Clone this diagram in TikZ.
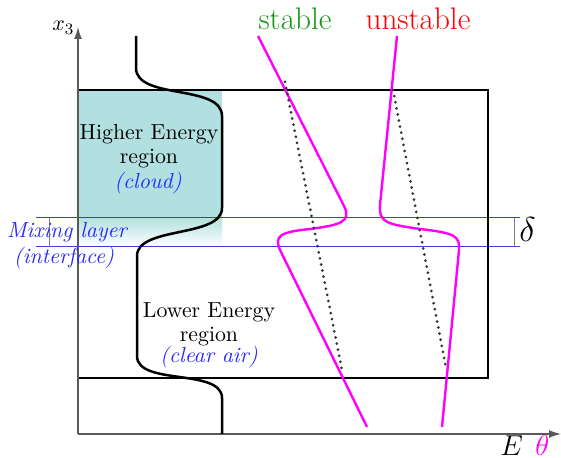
\documentclass[tikz,border=0pt]{standalone}
\usetikzlibrary{arrows.meta}
\definecolor{tealfill}{RGB}{178,224,224}
\definecolor{stablegreen}{RGB}{20,150,20}
\definecolor{linblue}{RGB}{60,60,230}
\definecolor{txtblue}{RGB}{40,40,255}
\definecolor{axisgray}{RGB}{90,90,90}
\definecolor{mag}{RGB}{255,0,255}
\definecolor{redtxt}{RGB}{255,0,0}
\begin{document}
\begin{tikzpicture}[x=0.5pt,y=-0.5pt,
  txt/.style={font=\fontsize{10.9}{12}\selectfont, align=center, inner sep=0pt},
  itxt/.style={font=\fontsize{10.9}{12}\selectfont\itshape, text=txtblue, inner sep=0pt},
  big/.style={font=\fontsize{15.6}{18}\selectfont, inner sep=0pt},
  prof/.style={line width=1.25pt, black},
  theta/.style={line width=1.2pt, mag},
  dots/.style={line width=1.5pt, black!80, line cap=round, dash pattern=on 0pt off 3.1pt},
  lay/.style={line width=0.5pt, linblue},
  tick/.style={line width=0.5pt, gray}]
\useasboundingbox (0,0) rectangle (561,458);
% cloud fill
\fill[tealfill] (78,90) rectangle (222,218);
\shade[top color=tealfill, bottom color=white] (78,217.5) rectangle (222,247);
% mixing layer lines
\draw[lay] (36,218) -- (520,218);
\draw[lay] (36,247) -- (520,247);
\draw[tick] (49,218) -- (49,247);
\draw[tick] (514,218) -- (514,247);
% box
\draw[line width=1pt] (78,90) rectangle (488,378);
% axes
\coordinate (O) at (78,434);
\coordinate (Ytop) at (78,27);
\coordinate (Xend) at (561,434);
\draw[axisgray, line width=0.6pt, -{Latex[length=6pt,width=4pt]}] (O) -- (Ytop);
\draw[axisgray, line width=0.6pt, -{Latex[length=6pt,width=4pt]}] (O) -- (Xend);
% energy profile
\draw[prof] (136,36) -- (136,68) .. controls (136,100) and (222,84) .. (222,116)
  -- (222,208) .. controls (222,238) and (137,226) .. (137,256)
  -- (137,356) .. controls (137,386) and (222,368) .. (222,398) -- (222,434);
% theta profiles
\draw[theta] (258,36) -- (344,206) .. controls (352,222) and (340,225) .. (310,229)
  .. controls (280,232) and (274,236) .. (280,250) -- (367,427);
\draw[theta] (397,36) -- (380,205) .. controls (379,222) and (385,224) .. (420,229)
  .. controls (455,233) and (460,236) .. (459,250) -- (442,427);
% dotted reference lines
\draw[dots] (285,82) -- (342,370);
\draw[dots] (393,90) -- (446,368);
% labels
\node[txt] (hi) at (149,146) {Higher Energy\\region};
\node[itxt] (cloud) at (148,183) {(cloud)};
\node[txt] (lo) at (209,324) {Lower Energy\\region};
\node[itxt] (clear) at (209,357) {(clear air)};
\node[itxt, anchor=base] (mix) at (67,238) {Mixing layer};
\node[itxt, anchor=base] (inter) at (64,264) {(interface)};
\node[big, anchor=base, text=stablegreen] (st) at (295,30) {stable};
\node[big, anchor=base, text=redtxt] (unst) at (418,30) {unstable};
\node[anchor=base west, inner sep=0pt, font=\fontsize{11}{13}\selectfont] (x3) at (52,31) {$x_3$};
\node[anchor=base west, inner sep=0pt, font=\fontsize{14.5}{17}\selectfont] (E) at (500,455) {$E$};
\node[anchor=base west, inner sep=0pt, font=\fontsize{14.5}{17}\selectfont, text=mag] (th) at (535,455) {$\theta$};
\node[anchor=base west, inner sep=0pt, font=\fontsize{17}{20}\selectfont] (dl) at (519,242) {$\delta$};
\end{tikzpicture}
\end{document}
